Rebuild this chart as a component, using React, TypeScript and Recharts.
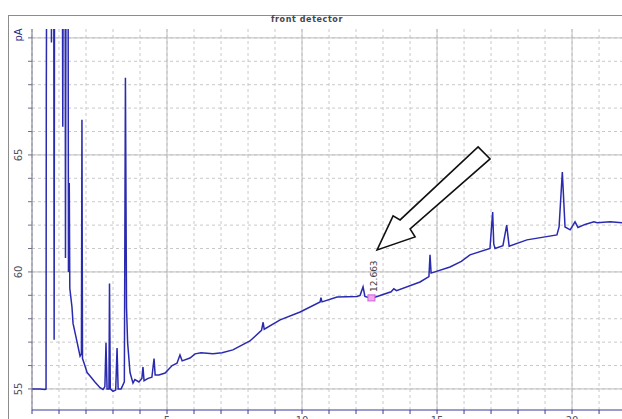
import { LineChart, Line, XAxis, YAxis, CartesianGrid, ReferenceDot } from 'recharts'

// retention time (min) and detector signal (pA); 80 = off scale
const RT = [
  0, 0.3, 0.48, 0.52, 0.53, 0.56, 0.7, 0.72, 0.74, 0.8, 0.82, 0.84,
  1.11, 1.14, 1.17, 1.22, 1.24, 1.27, 1.33, 1.35, 1.38, 1.4, 1.48, 1.52,
  1.67, 1.78, 1.83, 1.85, 1.87, 1.93, 2.04, 2.15, 2.33, 2.52, 2.63, 2.7,
  2.74, 2.78, 2.85, 2.87, 2.9, 3.0, 3.1, 3.15, 3.19, 3.3, 3.42, 3.46,
  3.5, 3.54, 3.63, 3.74, 3.81, 3.96, 4.07, 4.11, 4.15, 4.3, 4.44, 4.52,
  4.56, 4.7, 4.93, 5.19, 5.37, 5.48, 5.56, 5.85, 6.04, 6.26, 6.7, 7.04,
  7.44, 8.07, 8.5, 8.56, 8.6, 9.19, 9.93, 10.67, 10.7, 10.74, 11.3, 12.04,
  12.15, 12.26, 12.33, 12.52, 12.7, 13.3, 13.4, 13.5, 14.37, 14.7, 14.74, 14.78,
  15.48, 15.9, 16.22, 16.96, 17.06, 17.1, 17.15, 17.44, 17.58, 17.67, 18.33, 19.44,
  19.52, 19.64, 19.74, 19.93, 20.11, 20.22, 20.48, 20.81, 20.93, 21.41, 21.85,
]
const SIGNAL = [
  55.0, 55.0, 54.98, 55.0, 67.6, 80, 80, 69.8, 80, 80, 57.1, 80,
  80, 66.2, 80, 80, 60.6, 80, 80, 60.0, 63.8, 59.3, 58.5, 57.8,
  57.0, 56.4, 56.5, 66.5, 56.3, 56.1, 55.7, 55.55, 55.3, 55.05, 54.98, 55.1,
  56.97, 55.0, 55.0, 59.5, 55.0, 54.9, 54.95, 56.75, 55.0, 55.0, 55.3, 68.3,
  58.5, 57.0, 55.7, 55.25, 55.4, 55.3, 55.45, 55.94, 55.35, 55.45, 55.5, 56.3,
  55.6, 55.6, 55.68, 56.0, 56.1, 56.45, 56.2, 56.32, 56.5, 56.55, 56.5, 56.55,
  56.67, 57.05, 57.5, 57.85, 57.55, 57.95, 58.29, 58.72, 58.9, 58.72, 58.93, 58.95,
  59.0, 59.36, 58.95, 58.89, 58.92, 59.15, 59.28, 59.2, 59.57, 59.8, 60.73, 59.95,
  60.21, 60.45, 60.73, 61.0, 62.56, 61.2, 61.0, 61.12, 62.0, 61.1, 61.37, 61.58,
  61.92, 64.27, 61.92, 61.8, 62.14, 61.9, 62.03, 62.14, 62.1, 62.14, 62.1,
]

const X_TICKS = Array.from({ length: 22 }, (_, i) => i)
const Y_TICKS = Array.from({ length: 16 }, (_, i) => 55 + i)
const X_MAJOR = [5, 10, 15, 20]
const Y_MAJOR = [55, 60, 65, 70]

const PEAK_RT = 12.663
const PEAK_PA = 58.89
const ARROW_TIP = { t: 12.78, pa: 60.94 }

const data = RT.map((t, i) => ({ t, pa: SIGNAL[i] }))

const YTick = ({ y, payload }: any) => {
  const v = payload.value
  if (v === 70) {
    return (
      <text x={22} y={y - 3} transform={`rotate(-90 22 ${y - 3})`} textAnchor="middle"
        fontSize={10} fill="#2a2a8a" fontFamily="DejaVu Sans">pA</text>
    )
  }
  if (v % 5 !== 0) return null
  return (
    <text x={22} y={y} transform={`rotate(-90 22 ${y})`} textAnchor="middle"
      fontSize={10} fill="#505060" fontFamily="DejaVu Sans">{v}</text>
  )
}

const XTick = ({ x, y, payload }: any) => {
  if (payload.value % 5 !== 0 || payload.value === 0) return null
  return (
    <text x={x} y={y + 8} textAnchor="middle" fontSize={10} fill="#505060" fontFamily="DejaVu Sans">
      {payload.value}
    </text>
  )
}

const PeakMark = ({ cx, cy }: any) => (
  <g>
    <rect x={cx - 6} y={cy - 3} width={7} height={6} fill="#f2a6f2" stroke="#d060d8" strokeWidth={1} />
    <text x={cx + 3} y={cy - 6} transform={`rotate(-90 ${cx + 3} ${cy - 6})`} fontSize={9}
      fill="#404048" fontFamily="DejaVu Sans">12.663</text>
  </g>
)

const Arrow = ({ cx, cy }: any) => {
  const pts = [[101, -103], [113, -91], [33, -21], [38, -13], [0, 0], [16, -34], [23, -30]]
  return (
    <polygon points={pts.map(([dx, dy]) => `${cx + dx},${cy + dy}`).join(' ')}
      fill="#ffffff" stroke="#111111" strokeWidth={1.6} strokeLinejoin="miter" />
  )
}

export default function App() {
  return (
    <div style={{ position: 'absolute', left: 0, top: 0, width: 622, height: 419, background: '#fff', overflow: 'hidden' }}>
      <div style={{ position: 'absolute', left: 8, top: 15, width: 700, height: 500, borderTop: '1px solid #8c8c8c', borderLeft: '1px solid #8c8c8c' }} />
      <div style={{ position: 'absolute', left: 0, top: 15, width: 614, textAlign: 'center', fontSize: 8, fontWeight: 'bold', letterSpacing: 0.6, color: '#45454f', fontFamily: 'DejaVu Sans' }}>
        front detector
      </div>
      <div style={{ position: 'absolute', left: 0, top: 0 }}>
        <LineChart width={622} height={419} data={data} margin={{ top: 29, right: 0, bottom: 0, left: 8 }}>
          <CartesianGrid stroke="#c9c9c9" strokeDasharray="3 3" horizontalValues={Y_TICKS} verticalValues={X_TICKS} />
          <CartesianGrid stroke="#bdbdbd" horizontalValues={Y_MAJOR} verticalValues={X_MAJOR} />
          <XAxis dataKey="t" type="number" domain={[0, 21.85]} allowDataOverflow ticks={X_TICKS}
            height={9} tickSize={4} interval={0} tick={<XTick />} stroke="#3a3a9a" />
          <YAxis type="number" domain={[54.1, 70.38]} allowDataOverflow ticks={Y_TICKS}
            width={24} tickSize={4} interval={0} tick={<YTick />} stroke="#70708a" />
          <Line dataKey="pa" type="linear" stroke="#2a2ab0" strokeWidth={1.5} dot={false} isAnimationActive={false} />
          <ReferenceDot x={PEAK_RT} y={PEAK_PA} shape={<PeakMark />} />
          <ReferenceDot x={ARROW_TIP.t} y={ARROW_TIP.pa} shape={<Arrow />} />
        </LineChart>
      </div>
    </div>
  )
}
